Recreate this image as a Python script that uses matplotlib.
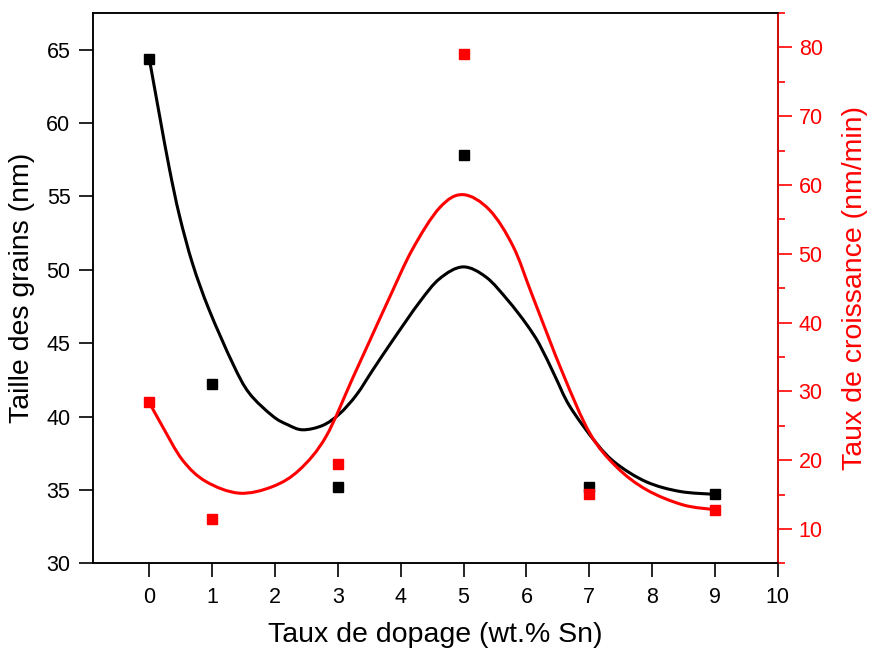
import numpy as np
from matplotlib import pyplot as plt
from matplotlib.path import Path
from matplotlib.patches import PathPatch
from matplotlib.ticker import MultipleLocator

plt.rcParams['font.family'] = ['Liberation Sans', 'DejaVu Sans']

# measured points
dopage = [0, 1, 3, 5, 7, 9]
taille = [64.4, 42.2, 35.2, 57.8, 35.2, 34.7]
croissance = [28.4, 11.4, 19.4, 79.1, 15.1, 12.8]

# smooth fit curves
fit_x_taille = [0, 0.16, 0.32, 0.48, 0.69, 0.95, 1.33, 1.59, 1.96, 2.2, 2.44, 2.76,
                3.03, 3.3, 3.56, 3.89, 4.3, 4.62, 4.99, 5.36, 5.71, 6.0, 6.21,
                6.45, 6.69, 7.11, 7.43, 7.91, 8.44, 9]
fit_y_taille = [64.4, 60.6, 56.9, 53.7, 50.4, 47.3, 43.6, 41.6, 40.05, 39.45, 39.1, 39.4,
                40.2, 41.5, 43.2, 45.3, 47.8, 49.4, 50.2, 49.5, 47.9, 46.3, 44.9,
                42.8, 40.7, 38.2, 36.8, 35.55, 34.9, 34.7]

fit_x_crois = [0, 0.21, 0.53, 0.9, 1.43, 1.96, 2.39, 2.81, 3.24, 3.5, 3.82, 4.19,
               4.62, 4.99, 5.41, 5.79, 6.1, 6.58, 7.01, 7.43, 7.91, 8.49, 9]
fit_y_crois = [28.4, 24.9, 20.0, 16.9, 15.2, 16.15, 18.6, 23.4, 32.0, 37.2, 43.6, 50.7,
               56.7, 58.6, 56.4, 51.05, 43.8, 32.6, 23.9, 19.05, 15.7, 13.5, 12.8]


def smooth_path(xs, ys):
    # catmull-rom through the read points, drawn as cubic beziers
    p = np.column_stack([xs, ys]).astype(float)
    verts = [p[0]]
    codes = [Path.MOVETO]
    n = len(p)
    for i in range(n - 1):
        p0 = p[i - 1] if i > 0 else p[i]
        p1 = p[i]
        p2 = p[i + 1]
        p3 = p[i + 2] if i + 2 < n else p[i + 1]
        verts += [p1 + (p2 - p0) / 6, p2 - (p3 - p1) / 6, p2]
        codes += [Path.CURVE4] * 3
    return Path(verts, codes)


def main():
    fig = plt.figure(figsize=(8.72, 6.52), dpi=100)
    ax = fig.add_axes([0.1063, 0.136, 0.7857, 0.844])
    ax2 = ax.twinx()

    ax.add_patch(PathPatch(smooth_path(fit_x_taille, fit_y_taille), fc='none',
                           ec='black', lw=2.2))
    ax.plot(dopage, taille, 's', color='black', ms=7, ls='none')

    ax2.add_patch(PathPatch(smooth_path(fit_x_crois, fit_y_crois), fc='none',
                            ec='red', lw=2.2))
    ax2.plot(dopage, croissance, 's', color='red', ms=7, ls='none')

    ax.set_xlim(-0.9, 10)
    ax.set_ylim(30, 67.5)
    ax2.set_ylim(5, 85)

    ax.xaxis.set_major_locator(MultipleLocator(1))
    ax.yaxis.set_major_locator(MultipleLocator(5))
    ax2.yaxis.set_major_locator(MultipleLocator(10))
    ax2.set_yticks(np.arange(5, 90, 10), minor=True)

    ax.tick_params(axis='both', direction='out', length=10, width=1.2, labelsize=15.5)
    ax.tick_params(axis='y', pad=6)
    ax.tick_params(axis='x', pad=7)
    ax2.tick_params(axis='y', which='major', direction='out', length=10, width=1.2,
                    labelsize=15.5, colors='red', pad=5)
    ax2.tick_params(axis='y', which='minor', direction='out', length=5, width=1.2,
                    colors='red')

    for s in ax.spines.values():
        s.set_linewidth(1.1)
    for s in ax2.spines.values():
        s.set_linewidth(1.1)
    ax2.spines['right'].set_color('red')

    ax.set_xlabel('Taux de dopage (wt.% Sn)', fontsize=20.5, labelpad=10)
    ax.set_ylabel('Taille des grains (nm)', fontsize=20.5, labelpad=8)
    ax2.set_ylabel('Taux de croissance (nm/min)', fontsize=20.5, color='red', labelpad=14)

    fig.savefig('out.png', dpi=100)


if __name__ == "__main__":
    main()
